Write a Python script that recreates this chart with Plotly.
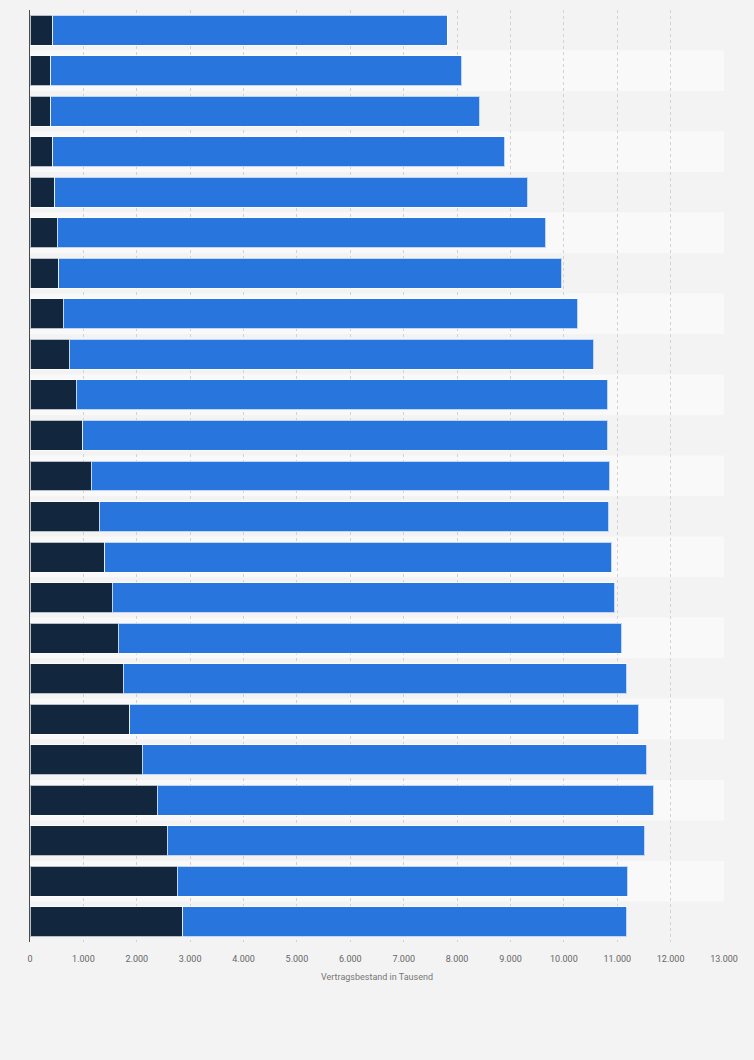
import plotly.graph_objects as go

# rows top to bottom (labels are hidden in the chart)
categories = [str(y) for y in range(1997, 2020)]
dark_values = [428, 390, 390, 428, 465, 510, 541, 622, 735, 866, 991, 1148,
               1298, 1404, 1542, 1654, 1742, 1873, 2098, 2386, 2574, 2762, 2861]
total_values = [7820, 8083, 8420, 8889, 9321, 9659, 9964, 10259, 10559, 10822, 10822, 10859,
                10840, 10897, 10953, 11084, 11178, 11403, 11553, 11685, 11516, 11197, 11178]
blue_values = [t - d for t, d in zip(total_values, dark_values)]

x_ticks = list(range(0, 13001, 1000))

fig = go.Figure()
fig.add_trace(go.Bar(y=categories, x=dark_values, orientation="h", name="dark",
                     marker=dict(color="#12263d", line=dict(color="rgba(255,255,255,0.7)", width=1))))
fig.add_trace(go.Bar(y=categories, x=blue_values, orientation="h", name="blue",
                     marker=dict(color="#2876dd", line=dict(color="rgba(255,255,255,0.7)", width=1))))

# alternating row bands
shapes = []
for i, c in enumerate(categories):
    shapes.append(dict(type="rect", xref="x", yref="y", x0=0, x1=13000,
                       y0=i - 0.5, y1=i + 0.5, layer="below", line=dict(width=0),
                       fillcolor="#f3f3f3" if i % 2 == 0 else "#f9f9f9"))

fig.update_layout(
    barmode="stack",
    bargap=0.26,
    width=754, height=1060,
    margin=dict(l=30, r=30, t=10, b=118),
    paper_bgcolor="#f3f3f3",
    plot_bgcolor="#f6f6f6",
    showlegend=False,
    separators=",.",
    font=dict(family="Roboto, Arial, sans-serif", color="#666666"),
    shapes=shapes,
)
fig.update_xaxes(range=[0, 13000], tickvals=x_ticks, tickformat=",d",
                 showgrid=True, gridcolor="#d2d2d2", griddash="dot", gridwidth=1,
                 zeroline=False, tickfont=dict(size=9, color="#666666"),
                 ticks="outside", ticklen=8, tickcolor="rgba(0,0,0,0)",
                 title=dict(text="Vertragsbestand in Tausend", font=dict(size=9, color="#777777"), standoff=10))
fig.update_yaxes(autorange="reversed", showticklabels=False, showgrid=False,
                 showline=True, linecolor="#4a4a4a", linewidth=1, ticks="")

fig.write_html("out.html", config={"displayModeBar": False},
               post_script="document.body.style.margin='0';document.body.style.background='#f3f3f3';")
